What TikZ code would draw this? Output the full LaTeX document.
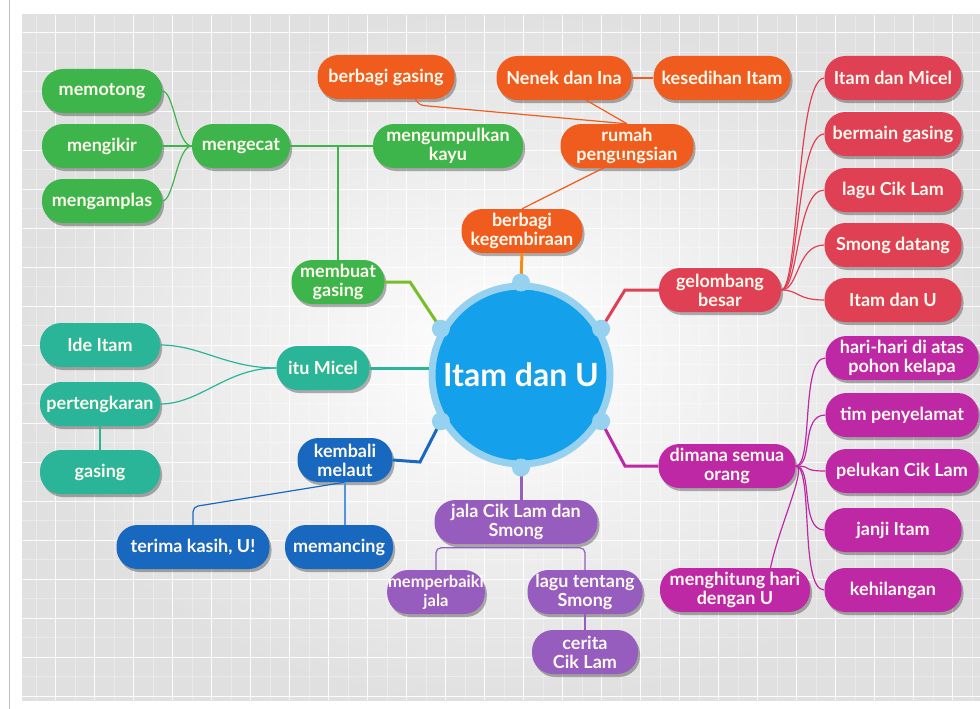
\documentclass[tikz,border=0pt]{standalone}
\usepackage{fontspec}
\setmainfont{Lato}
\usetikzlibrary{shadows}
\definecolor{grn}{RGB}{61,181,74}
\definecolor{lime}{RGB}{120,190,40}
\definecolor{orng}{RGB}{240,92,30}
\definecolor{rd}{RGB}{224,64,84}
\definecolor{mgnt}{RGB}{190,40,165}
\definecolor{prpl}{RGB}{150,92,190}
\definecolor{blu}{RGB}{24,104,192}
\definecolor{lblu}{RGB}{80,150,220}
\definecolor{tl}{RGB}{42,180,152}
\definecolor{hub}{RGB}{20,160,235}
\definecolor{ring}{RGB}{150,210,240}
\definecolor{cream}{RGB}{255,250,238}
\tikzset{
  pill/.style={rounded corners=21pt, minimum height=44pt, inner xsep=3pt, inner ysep=2pt,
    align=center, text=cream, font=\bfseries\fontsize{18}{19}\selectfont,
    drop shadow={shadow xshift=2pt, shadow yshift=-3pt, opacity=.3, fill=black}},
  gnode/.style={pill, fill=grn},
  onode/.style={pill, fill=orng},
  rnode/.style={pill, fill=rd},
  mnode/.style={pill, fill=mgnt},
  pnode/.style={pill, fill=prpl},
  bnode/.style={pill, fill=blu},
  tnode/.style={pill, fill=tl},
  link/.style={line width=1.2pt},
  trunk/.style={line width=3pt},
}
\begin{document}
\begin{tikzpicture}[x=1pt,y=-1pt]
\useasboundingbox (0,0) rectangle (980,709);
% backdrop and grid
\fill[white] (0,0) rectangle (980,709);
\shade[inner color=white, outer color=black!12] (22,15) rectangle (980,700);
\foreach \x in {36,75,...,980} \draw[white, line width=.5pt, opacity=.35] (\x,15) -- (\x,700);
\foreach \y in {52,91,...,700} \draw[white, line width=.5pt, opacity=.35] (22,\y) -- (980,\y);
\foreach \x in {55,94,...,980} \draw[white, line width=1pt, opacity=.9] (\x,15) -- (\x,700);
\foreach \y in {33,72,...,700} \draw[white, line width=1pt, opacity=.9] (22,\y) -- (980,\y);
\draw[black!25] (9,0) -- (9,709);
% centre
\node[circle, fill=hub, draw=ring, line width=7pt, minimum size=178pt, text=cream,
  font=\bfseries\fontsize{32}{36}\selectfont] (hub) at (521,375) {Itam dan U};
% membuat gasing
\node[gnode, minimum width=120pt] (memotong) at (102,91) {memotong};
\node[gnode, minimum width=120pt] (mengikir) at (102,146) {mengikir};
\node[gnode, minimum width=120pt] (mengamplas) at (102,201) {mengamplas};
\node[gnode, minimum width=98pt] (mengecat) at (241,146) {mengecat};
\node[gnode, minimum width=150pt] (kayu) at (448,146) {mengumpulkan\\kayu};
\node[gnode, minimum width=93pt] (membuat) at (338,282) {membuat\\gasing};
% berbagi kegembiraan
\node[onode, minimum width=137pt] (bgasing) at (386,77) {berbagi gasing};
\node[onode, minimum width=135pt] (nenek) at (564,78) {Nenek dan Ina};
\node[onode, minimum width=137pt] (sedih) at (722,78) {kesedihan Itam};
\node[onode, minimum width=133pt] (rumah) at (627,146) {rumah\\pengungsian};
\node[onode, minimum width=121pt] (gembira) at (522,231) {berbagi\\kegembiraan};
% gelombang besar
\node[rnode, minimum width=137pt] (micel) at (893,78) {Itam dan Micel};
\node[rnode, minimum width=137pt] (bermain) at (893,134) {bermain gasing};
\node[rnode, minimum width=137pt] (lagu) at (893,190) {lagu Cik Lam};
\node[rnode, minimum width=137pt] (smong) at (893,245) {Smong datang};
\node[rnode, minimum width=137pt] (itamu) at (893,300) {Itam dan U};
\node[rnode, minimum width=122pt] (gelombang) at (720,290) {gelombang\\besar};
% dimana semua orang
\node[mnode, minimum width=137pt] (dimana) at (727,466) {dimana semua\\orang};
\node[mnode, minimum width=150pt] (hitung) at (735,590) {menghitung hari\\dengan U};
\node[mnode, minimum width=153pt] (pohon) at (902,358) {hari-hari di atas\\pohon kelapa};
\node[mnode, minimum width=153pt] (tim) at (902,415) {tim penyelamat};
\node[mnode, minimum width=153pt] (peluk) at (902,471) {pelukan Cik Lam};
\node[mnode, minimum width=137pt] (janji) at (893,530) {janji Itam};
\node[mnode, minimum width=137pt] (hilang) at (893,590) {kehilangan};
% jala
\node[pnode, minimum width=163pt] (jala) at (516,522) {jala Cik Lam dan\\Smong};
\node[pnode, minimum width=93pt, inner xsep=1pt, font=\bfseries\fontsize{16.5}{19}\selectfont] (perbaiki) at (436,592) {memperbaiki\\jala};
\node[pnode, minimum width=115pt] (tentang) at (585,592) {lagu tentang\\Smong};
\node[pnode, minimum width=106pt] (cerita) at (585,652) {cerita\\Cik Lam};
% kembali melaut
\node[bnode, minimum width=95pt] (melaut) at (345,460) {kembali\\melaut};
\node[bnode, minimum width=153pt] (terima) at (193,547) {terima kasih, U!};
\node[bnode, minimum width=108pt] (pancing) at (339,547) {memancing};
% itu Micel
\node[tnode, minimum width=120pt] (ide) at (100,345) {Ide Itam};
\node[tnode, minimum width=120pt] (tengkar) at (100,404) {pertengkaran};
\node[tnode, minimum width=120pt] (gasing) at (100,472) {gasing};
\node[tnode, minimum width=93pt] (itumicel) at (323,368) {itu Micel};
% trunks
\draw[trunk, lime] (membuat.east) -- (410,282) -- (hub.150);
\draw[trunk, tl] (itumicel.east) -- (itumicel.east -| hub.west);
\draw[trunk, blu] (melaut.east) -- (420,462) -- (hub.210);
\draw[trunk, rd] (hub.30) -- (625,290) -- (gelombang.west);
\draw[trunk, mgnt] (hub.330) -- (625,466) -- (dimana.west);
\draw[trunk, orng!70!yellow] (hub.90) -- (gembira.south);
\draw[trunk, prpl] (hub.270) -- (hub.270 |- jala.north);
% links
\foreach \n in {memotong,mengikir,mengamplas}
  \draw[link, grn] (mengecat.west) .. controls +(-15,0) and +(12,0) .. (\n.east);
\draw[link, grn] (mengecat.east) -- (kayu.west);
\draw[link, grn] (membuat.north) -- (membuat.north |- mengecat.east);
\draw[link, orng, rounded corners=5pt] (gembira.north) -- ([yshift=12pt]rumah.south) -- (rumah.south);
\draw[link, orng] (nenek.-45) -- (rumah.north);
\draw[link, orng, rounded corners=4pt] (bgasing.-37) -- ++(4,6) -- (rumah.north);
\draw[link, orng] (nenek.east) -- (sedih.west);
\foreach \n in {micel,bermain,lagu,smong,itamu}
  \draw[link, rd] (gelombang.east) .. controls +(18,0) and +(-28,0) .. (\n.west);
\foreach \n in {pohon,tim,peluk,janji,hilang}
  \draw[link, mgnt] (dimana.east) .. controls +(18,0) and +(-25,0) .. (\n.west);
\draw[link, mgnt] (dimana.east) .. controls +(12,0) and +(8,-40) .. (hitung.32);
\draw[link, prpl, rounded corners=5pt] (perbaiki.north) -- ([yshift=22pt]perbaiki.north)
  -- ([yshift=22pt]tentang.north) -- (tentang.north);
\draw[link, prpl] (tentang.south) -- (cerita.north);
\draw[link, blu, rounded corners=5pt] (melaut.south) -- ([yshift=18pt]terima.north) -- (terima.north);
\draw[link, lblu] (melaut.south) -- (melaut.south |- pancing.north);
\foreach \n in {ide,tengkar}
  \draw[link, tl] (itumicel.west) .. controls +(-50,0) and +(40,0) .. (\n.east);
\draw[link, tl] (tengkar.south) -- (gasing.north);
% knobs
\foreach \a in {30,90,...,330} \fill[ring] (hub.\a) circle (9pt);
\end{tikzpicture}
\end{document}
